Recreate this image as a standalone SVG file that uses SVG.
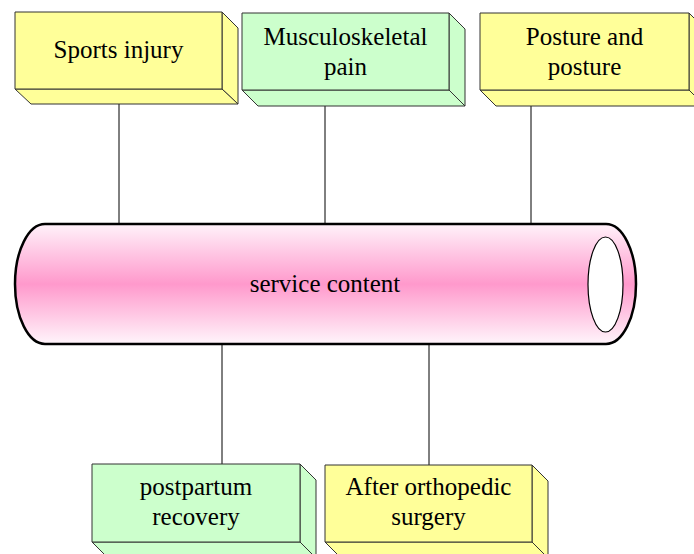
<svg xmlns="http://www.w3.org/2000/svg" width="694" height="554" viewBox="0 0 694 554">
<style>
.box{stroke:#333;stroke-width:1;stroke-linejoin:round}
.y{fill:#ffff99}
.g{fill:#ccffcc}
.t{font-size:25px;fill:#000;text-anchor:middle}
.c{stroke:#000;stroke-width:1;fill:none}
</style>
<defs>
<linearGradient id="pink" x1="0" y1="0" x2="0" y2="1">
<stop offset="0" stop-color="#fff2fa"/>
<stop offset="0.5" stop-color="#ff99cc"/>
<stop offset="1" stop-color="#fff5fb"/>
</linearGradient>
</defs>
<rect width="694" height="554" fill="#fff"/>
<g id="connectors">
<line class="c" x1="119" y1="104" x2="119" y2="224"/>
<line class="c" x1="325" y1="106" x2="325" y2="224"/>
<line class="c" x1="531" y1="106" x2="531" y2="224"/>
<line class="c" x1="222" y1="344" x2="222" y2="464"/>
<line class="c" x1="429" y1="344" x2="429" y2="465"/>
</g>
<g font-family="Liberation Serif, Times New Roman, DejaVu Serif, serif">
<g id="hub">
<path d="M45,224 L606,224 A30,60 0 0 1 606,344 L45,344 A30,60 0 0 1 45,224 Z" fill="url(#pink)" stroke="#000" stroke-width="2.5"/>
<ellipse cx="605.5" cy="284.5" rx="17.5" ry="47.5" fill="#fff" stroke="#000" stroke-width="1.2"/>
<text class="t" x="325" y="292">service content</text>
</g>
<g id="n1">
<path class="box y" d="M222,12 L238,28 L238,104 L222,89 Z"/>
<path class="box y" d="M15,89 L31,104 L238,104 L222,89 Z"/>
<rect class="box y" x="15" y="12" width="207" height="77"/>
<text class="t" x="118.5" y="58">Sports injury</text>
</g>
<g id="n2">
<path class="box g" d="M449,13 L465,29 L465,106 L449,90 Z"/>
<path class="box g" d="M242,90 L258,106 L465,106 L449,90 Z"/>
<rect class="box g" x="242" y="13" width="207" height="77"/>
<text class="t" x="345.5" y="45">Musculoskeletal</text>
<text class="t" x="345.5" y="75">pain</text>
</g>
<g id="n3">
<path class="box y" d="M689,13 L705,29 L705,106 L689,90 Z"/>
<path class="box y" d="M480,90 L496,106 L705,106 L689,90 Z"/>
<rect class="box y" x="480" y="13" width="209" height="77"/>
<text class="t" x="584.5" y="45">Posture and</text>
<text class="t" x="584.5" y="75">posture</text>
</g>
<g id="n4">
<path class="box g" d="M300,464 L316,480 L316,558 L300,542 Z"/>
<path class="box g" d="M92,542 L108,558 L316,558 L300,542 Z"/>
<rect class="box g" x="92" y="464" width="208" height="78"/>
<text class="t" x="196" y="495">postpartum</text>
<text class="t" x="196" y="525">recovery</text>
</g>
<g id="n5">
<path class="box y" d="M532,465 L548,481 L548,558 L532,542 Z"/>
<path class="box y" d="M325,542 L341,558 L548,558 L532,542 Z"/>
<rect class="box y" x="325" y="465" width="207" height="77"/>
<text class="t" x="428.5" y="495">After orthopedic</text>
<text class="t" x="428.5" y="525">surgery</text>
</g>
</g>
</svg>
